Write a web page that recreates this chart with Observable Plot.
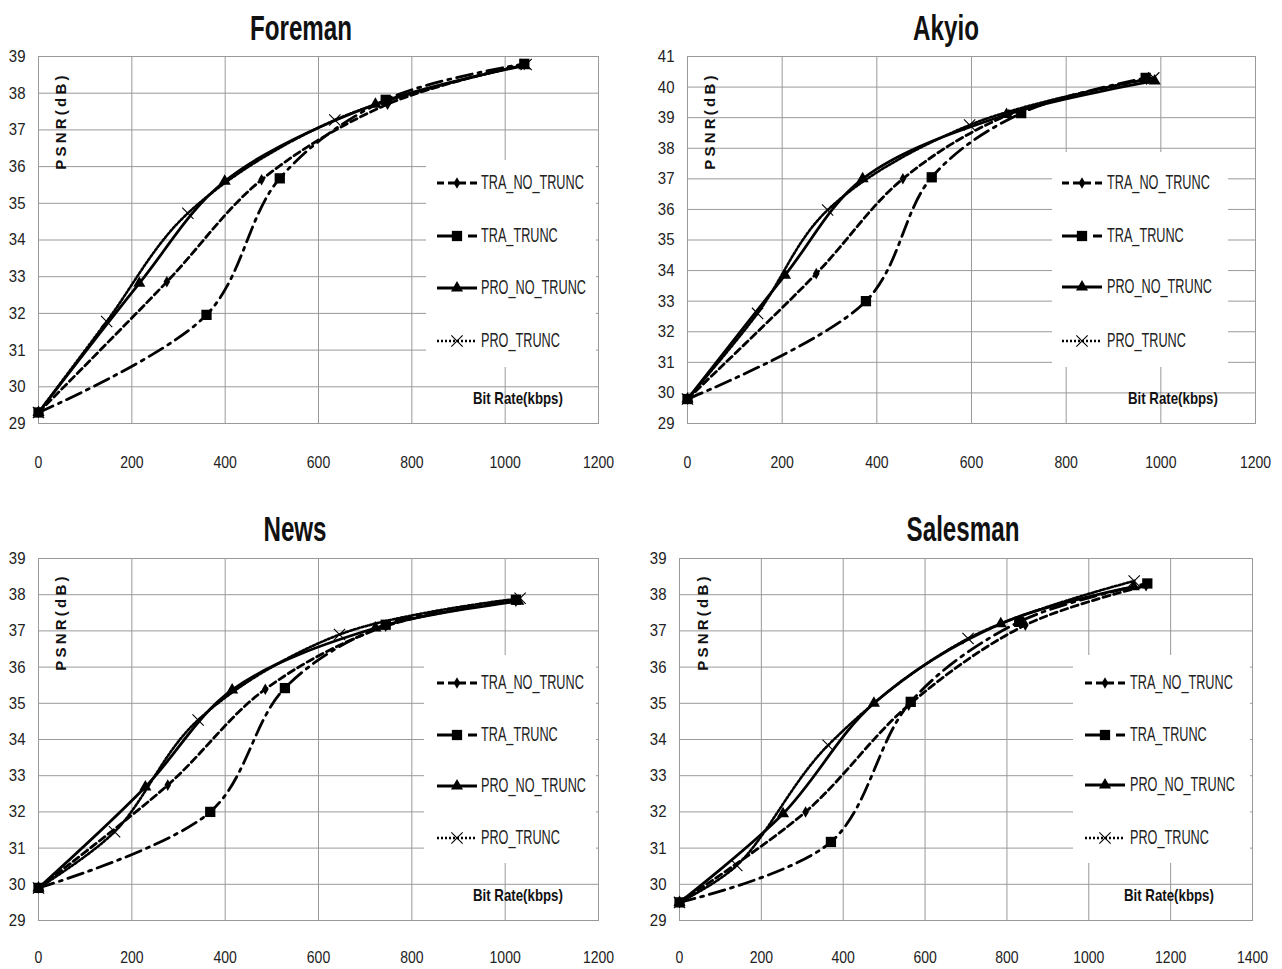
<!DOCTYPE html>
<html><head><meta charset="utf-8">
<script src="https://cdn.jsdelivr.net/npm/d3@7"></script>
<script src="https://cdn.jsdelivr.net/npm/@observablehq/plot@0.6"></script>
<style>
body{margin:0;background:#fff;}
#root{position:relative;width:1282px;height:969px;overflow:hidden;background:#fff;font-family:"Liberation Sans",Arial,sans-serif;color:#111;}
.panel{position:absolute;}
.title{position:absolute;font-weight:bold;font-size:35px;line-height:1;transform:translate(-50%,-50%) scaleX(0.69);white-space:nowrap;}
.ylab{position:absolute;font-weight:bold;font-size:15px;line-height:1;letter-spacing:3.2px;transform:translate(-50%,-50%) rotate(-90deg);white-space:nowrap;}
.xlab{position:absolute;font-weight:bold;font-size:17px;line-height:1;transform-origin:0 50%;transform:translate(0,-50%) scaleX(0.78);white-space:nowrap;}
.legend{position:absolute;background:#fff;}
.lrow{position:absolute;left:0;height:22px;}
.lrow svg{position:absolute;top:0;}
.lrow span{position:absolute;top:50%;line-height:1;transform-origin:0 50%;transform:translateY(-50%) scaleX(0.65);font-size:19.5px;white-space:nowrap;color:#222;}
</style>
</head><body>
<div id="root"></div>
<script>
// ---------- data ----------
const seriesNames = ["TRA_NO_TRUNC", "TRA_TRUNC", "PRO_NO_TRUNC", "PRO_TRUNC"];
const panelTitles = ["Foreman", "Akyio", "News", "Salesman"];
const yAxisLabel = "PSNR(dB)";
const xAxisLabel = "Bit Rate(kbps)";

const xTicks1200 = [0, 200, 400, 600, 800, 1000, 1200];
const xTicks1400 = [0, 200, 400, 600, 800, 1000, 1200, 1400];
const yTicks29to39 = [29, 30, 31, 32, 33, 34, 35, 36, 37, 38, 39];
const yTicks29to41 = [29, 30, 31, 32, 33, 34, 35, 36, 37, 38, 39, 40, 41];

// [bit rate (kbps), PSNR (dB)]
const foremanTraNoTrunc = [[0, 29.3], [275, 32.86], [478, 35.64], [748, 37.7], [1041, 38.78]];
const foremanTraTrunc   = [[0, 29.3], [360, 31.96], [517, 35.68], [744, 37.82], [1041, 38.8]];
const foremanProNoTrunc = [[0, 29.3], [216, 32.82], [399, 35.6], [722, 37.7], [1041, 38.75]];
const foremanProTrunc   = [[0, 29.3], [146, 31.78], [320, 34.73], [635, 37.27], [1045, 38.78]];

const akyioTraNoTrunc = [[0, 29.8], [272, 33.9], [455, 37.0], [679, 39.1], [970, 40.25]];
const akyioTraTrunc   = [[0, 29.8], [377, 33.0], [516, 37.05], [705, 39.15], [968, 40.3]];
const akyioProNoTrunc = [[0, 29.8], [206, 33.85], [370, 37.0], [674, 39.1], [987, 40.2]];
const akyioProTrunc   = [[0, 29.8], [148, 32.6], [296, 35.98], [596, 38.76], [985, 40.3]];

const newsTraNoTrunc = [[0, 29.9], [277, 32.74], [486, 35.39], [744, 37.13], [1023, 37.82]];
const newsTraTrunc   = [[0, 29.9], [368, 32.0], [528, 35.42], [744, 37.17], [1023, 37.86]];
const newsProNoTrunc = [[0, 29.9], [229, 32.69], [415, 35.37], [722, 37.08], [1028, 37.82]];
const newsProTrunc   = [[0, 29.9], [163, 31.45], [342, 34.54], [645, 36.9], [1032, 37.9]];

const salesmanTraNoTrunc = [[0, 29.5], [308, 32.0], [560, 34.95], [845, 37.16], [1140, 38.25]];
const salesmanTraTrunc   = [[0, 29.5], [370, 31.17], [565, 35.04], [830, 37.25], [1143, 38.31]];
const salesmanProNoTrunc = [[0, 29.5], [253, 31.95], [475, 35.0], [785, 37.2], [1110, 38.22]];
const salesmanProTrunc   = [[0, 29.5], [140, 30.52], [363, 33.84], [705, 36.79], [1111, 38.38]];

// ---------- styles ----------
const seriesStyles = [
  {dash: "7,4", width: 2.8, symbol: "diamond", r: 3.5, filled: true},
  {dash: "16,6,3,6", width: 2.8, symbol: "square", r: 5.8, filled: true},
  {dash: null, width: 2.8, symbol: "triangle", r: 4.5, filled: true},
  {dash: "2,2", width: 2.6, symbol: "times", r: 5.2, filled: false}
];
const symbolMap = {diamond: d3.symbolDiamond, square: d3.symbolSquare, triangle: d3.symbolTriangle, times: d3.symbolTimes};
const FONT = '"Liberation Sans",Arial,sans-serif';
const GRID = "#999999";

const panels = [
  {title: panelTitles[0], series: [foremanTraNoTrunc, foremanTraTrunc, foremanProNoTrunc, foremanProTrunc],
   xTicks: xTicks1200, yTicks: yTicks29to39, left: 0, top: 0, width: 640, height: 485, ml: 38, mr: 42, mt: 56, mb: 62, xPad: 33,
   titleXY: [301, 27], ylabXY: [60, 121], xlabXY: [473, 398],
   legend: {left: 426, top: 160, w: 170, h: 207, rows: [183, 236, 288, 341], lineX: 437, textX: 481}},
  {title: panelTitles[1], series: [akyioTraNoTrunc, akyioTraTrunc, akyioProNoTrunc, akyioProTrunc],
   xTicks: xTicks1200, yTicks: yTicks29to41, left: 640, top: 0, width: 642, height: 485, ml: 47, mr: 27, mt: 56, mb: 62, xPad: 33,
   titleXY: [946, 27], ylabXY: [709, 121], xlabXY: [1128, 398],
   legend: {left: 1052, top: 152, w: 176, h: 215, rows: [183, 236, 287, 341], lineX: 1062, textX: 1107}},
  {title: panelTitles[2], series: [newsTraNoTrunc, newsTraTrunc, newsProNoTrunc, newsProTrunc],
   xTicks: xTicks1200, yTicks: yTicks29to39, left: 0, top: 485, width: 640, height: 484, ml: 38, mr: 42, mt: 73, mb: 49, xPad: 31,
   titleXY: [295, 528], ylabXY: [60, 622], xlabXY: [473, 895],
   legend: {left: 424, top: 655, w: 172, h: 208, rows: [683, 735, 786, 838], lineX: 437, textX: 481}},
  {title: panelTitles[3], series: [salesmanTraNoTrunc, salesmanTraTrunc, salesmanProNoTrunc, salesmanProTrunc],
   xTicks: xTicks1400, yTicks: yTicks29to39, left: 640, top: 485, width: 642, height: 484, ml: 39, mr: 30, mt: 73, mb: 49, xPad: 31,
   titleXY: [963, 528], ylabXY: [702, 622], xlabXY: [1124, 895],
   legend: {left: 1073, top: 655, w: 177, h: 208, rows: [683, 735, 785, 838], lineX: 1085, textX: 1130}}
];

const root = document.getElementById("root");

// Narrow the tick texts (the reference uses a condensed face) once they are in the DOM.
function squeeze(svg, selector, s) {
  svg.querySelectorAll(selector).forEach(t => {
    const len = t.getComputedTextLength();
    if (len > 0) {
      t.setAttribute("textLength", (len * s).toFixed(2));
      t.setAttribute("lengthAdjust", "spacingAndGlyphs");
    }
  });
}

function makePlot(p) {
  const marks = [
    Plot.gridX(p.xTicks, {stroke: GRID, strokeOpacity: 1, strokeWidth: 1}),
    Plot.gridY(p.yTicks, {stroke: GRID, strokeOpacity: 1, strokeWidth: 1}),
    Plot.frame({stroke: GRID, strokeWidth: 1}),
    Plot.axisX(p.xTicks, {tickSize: 0, tickPadding: p.xPad, label: null, fontSize: 16.5, fill: "#222", tickFormat: d => String(d)}),
    Plot.axisY(p.yTicks, {tickSize: 0, tickPadding: 13, label: null, fontSize: 17, fill: "#222", tickFormat: d => String(d)})
  ];
  p.series.forEach((pts, i) => {
    const st = seriesStyles[i];
    const rows = pts.map(([rate, psnr]) => ({rate, psnr, series: seriesNames[i]}));
    marks.push(Plot.line(rows, {x: "rate", y: "psnr", stroke: "black", strokeWidth: st.width,
      strokeDasharray: st.dash || undefined, curve: "catmull-rom"}));
    marks.push(Plot.dot(rows, st.filled
      ? {x: "rate", y: "psnr", symbol: () => st.symbol, r: st.r, fill: "black", stroke: "none"}
      : {x: "rate", y: "psnr", symbol: () => st.symbol, r: st.r, stroke: "black", strokeWidth: 1.1, fill: "none"}));
  });
  return Plot.plot({
    width: p.width, height: p.height,
    marginLeft: p.ml, marginRight: p.mr, marginTop: p.mt, marginBottom: p.mb,
    x: {domain: [p.xTicks[0], p.xTicks[p.xTicks.length - 1]], axis: null},
    y: {domain: [p.yTicks[0], p.yTicks[p.yTicks.length - 1]], axis: null},
    symbol: {type: "identity"},
    style: {fontFamily: FONT, fontSize: "17px", color: "#222", background: "transparent", overflow: "visible"},
    marks
  });
}

function addDiv(cls, text, x, y) {
  const d = document.createElement("div");
  d.className = cls;
  d.textContent = text;
  d.style.left = x + "px";
  d.style.top = y + "px";
  root.appendChild(d);
  return d;
}

function legendSample(i) {
  const st = seriesStyles[i];
  const ns = "http://www.w3.org/2000/svg";
  const svg = document.createElementNS(ns, "svg");
  svg.setAttribute("width", 42); svg.setAttribute("height", 22);
  const line = document.createElementNS(ns, "line");
  line.setAttribute("x1", 0); line.setAttribute("x2", 40);
  line.setAttribute("y1", 11); line.setAttribute("y2", 11);
  line.setAttribute("stroke", "black");
  line.setAttribute("stroke-width", st.width);
  if (st.dash) line.setAttribute("stroke-dasharray", st.dash);
  svg.appendChild(line);
  const path = document.createElementNS(ns, "path");
  path.setAttribute("d", d3.symbol(symbolMap[st.symbol], Math.PI * st.r * st.r)());
  path.setAttribute("transform", "translate(20,11)");
  if (st.filled) { path.setAttribute("fill", "black"); }
  else { path.setAttribute("fill", "none"); path.setAttribute("stroke", "black"); path.setAttribute("stroke-width", 1.1); }
  svg.appendChild(path);
  return svg;
}

panels.forEach(p => {
  const wrap = document.createElement("div");
  wrap.className = "panel";
  wrap.style.left = p.left + "px";
  wrap.style.top = p.top + "px";
  const svg = makePlot(p);
  wrap.appendChild(svg);
  root.appendChild(wrap);
  squeeze(svg, 'g[aria-label="x-axis tick label"] text', 0.85);
  squeeze(svg, 'g[aria-label="y-axis tick label"] text', 0.88);

  addDiv("title", p.title, p.titleXY[0], p.titleXY[1]);
  addDiv("ylab", yAxisLabel, p.ylabXY[0], p.ylabXY[1]);
  addDiv("xlab", xAxisLabel, p.xlabXY[0], p.xlabXY[1]);

  const L = p.legend;
  const box = document.createElement("div");
  box.className = "legend";
  box.style.left = L.left + "px"; box.style.top = L.top + "px";
  box.style.width = L.w + "px"; box.style.height = L.h + "px";
  seriesNames.forEach((name, i) => {
    const row = document.createElement("div");
    row.className = "lrow";
    row.style.top = (L.rows[i] - L.top - 11) + "px";
    row.style.width = L.w + "px";
    const sv = legendSample(i);
    sv.style.left = (L.lineX - L.left) + "px";
    row.appendChild(sv);
    const s = document.createElement("span");
    s.textContent = name;
    s.style.left = (L.textX - L.left) + "px";
    row.appendChild(s);
    box.appendChild(row);
  });
  root.appendChild(box);
});
</script>
</body></html>
